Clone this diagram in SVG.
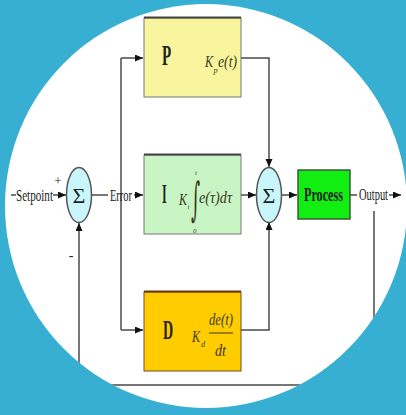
<svg xmlns="http://www.w3.org/2000/svg" width="406" height="415" viewBox="0 0 406 415">
<style>
.ln{fill:none;stroke:#4a4a4a;stroke-width:1.5}
.t{font-family:"Liberation Serif","Times New Roman",serif;fill:#222}
.it{font-family:"Liberation Serif","Times New Roman",serif;font-style:italic;fill:#3a3a22}
.sum{fill:#c9f6fa;stroke:#555;stroke-width:1.5}
</style>
<defs>
<marker id="ah" markerUnits="userSpaceOnUse" markerWidth="8" markerHeight="8" refX="8" refY="3.5" orient="auto">
<path d="M0,0 L8,3.5 L0,7 z" fill="#111"/>
</marker>
<clipPath id="cl"><ellipse cx="206" cy="206" rx="201" ry="202"/></clipPath>
</defs>
<rect width="406" height="415" fill="#36afd3"/>
<ellipse cx="206" cy="206" rx="201" ry="202" fill="#ffffff"/>
<g clip-path="url(#cl)">
<g id="connectors">
<path class="ln" d="M11,195 H16"/>
<path class="ln" d="M53,195 H66" marker-end="url(#ah)"/>
<path class="ln" d="M92,195 H108"/>
<path class="ln" d="M134,195 H143" marker-end="url(#ah)"/>
<path class="ln" d="M121,330 V58"/>
<path class="ln" d="M121,58 H143" marker-end="url(#ah)"/>
<path class="ln" d="M121,330 H143" marker-end="url(#ah)"/>
<path class="ln" d="M241,58 H269 V167" marker-end="url(#ah)"/>
<path class="ln" d="M241,195 H256" marker-end="url(#ah)"/>
<path class="ln" d="M241,330 H269 V222" marker-end="url(#ah)"/>
<path class="ln" d="M282,195 H297" marker-end="url(#ah)"/>
<path class="ln" d="M350,195 H357"/>
<path class="ln" d="M389,195 H401" marker-end="url(#ah)"/>
<path class="ln" d="M374,211 V385 H79 V223" marker-end="url(#ah)"/>
</g>
<g id="setpoint">
<text class="t" x="16" y="201" font-size="16" textLength="37" lengthAdjust="spacingAndGlyphs">Setpoint</text>
</g>
<g id="sum1">
<ellipse class="sum" cx="79" cy="195" rx="12.5" ry="27.5"/>
<text class="t" x="79" y="203" font-size="22" text-anchor="middle">Σ</text>
<text class="t" x="58" y="185" font-size="13" text-anchor="middle">+</text>
<text class="t" x="71" y="260" font-size="14" text-anchor="middle">-</text>
</g>
<g id="error">
<text class="t" x="110" y="201" font-size="16" textLength="22" lengthAdjust="spacingAndGlyphs">Error</text>
</g>
<g id="P">
<rect x="144" y="18" width="97" height="79" fill="#f8f59e" stroke="#777" stroke-width="1"/>
<path d="M144,17.5 H241" stroke="#444" stroke-width="2"/>
<text class="t" font-size="30" font-weight="bold" transform="translate(162,65) scale(0.5,1)">P</text>
<text class="it" x="205" y="67" font-size="16" textLength="8" lengthAdjust="spacingAndGlyphs">K</text>
<text class="it" x="213.5" y="73" font-size="8">p</text>
<text class="it" x="218" y="67" font-size="16" textLength="19" lengthAdjust="spacingAndGlyphs">e(t)</text>
</g>
<g id="I">
<rect x="144" y="155" width="97" height="79" fill="#c9f5c4" stroke="#777" stroke-width="1"/>
<path d="M144,154.5 H241" stroke="#444" stroke-width="2"/>
<text class="t" font-size="27" font-weight="bold" transform="translate(162,203) scale(0.45,1)">I</text>
<text class="it" x="179" y="205" font-size="16" textLength="8" lengthAdjust="spacingAndGlyphs">K</text>
<text class="it" x="187.5" y="209" font-size="7">i</text>
<text font-family="DejaVu Serif,serif" fill="#3a3a22" font-size="46" transform="translate(191,215) scale(0.38,1)">∫</text>
<text class="it" x="195" y="175" font-size="7">t</text>
<text class="it" x="193" y="233" font-size="7">0</text>
<text class="it" x="199" y="203" font-size="16" textLength="33" lengthAdjust="spacingAndGlyphs">e(τ)dτ</text>
</g>
<g id="D">
<rect x="144" y="292" width="97" height="79" fill="#ffcc00" stroke="#7a4a20" stroke-width="1"/>
<path d="M144,291.5 H241" stroke="#6b3a1a" stroke-width="2"/>
<text class="t" font-size="28" font-weight="bold" transform="translate(163,339) scale(0.5,1)">D</text>
<text class="it" x="192" y="342" font-size="16" textLength="8" lengthAdjust="spacingAndGlyphs">K</text>
<text class="it" x="201" y="347" font-size="8">d</text>
<text class="it" x="209" y="325" font-size="16" textLength="24" lengthAdjust="spacingAndGlyphs">de(t)</text>
<path d="M209,333 H233" stroke="#3a3a22" stroke-width="1.2"/>
<text class="it" x="215" y="356" font-size="16" textLength="11" lengthAdjust="spacingAndGlyphs">dt</text>
</g>
<g id="sum2">
<ellipse class="sum" cx="269" cy="195" rx="12.5" ry="27.5"/>
<text class="t" x="269" y="203" font-size="22" text-anchor="middle">Σ</text>
</g>
<g id="process">
<rect x="298" y="170" width="52" height="49" fill="#11ee11" stroke="#3a5a3a" stroke-width="1.5"/>
<text class="t" x="304" y="201" font-size="18" font-weight="bold" textLength="39" lengthAdjust="spacingAndGlyphs">Process</text>
</g>
<g id="output">
<text class="t" x="359" y="200" font-size="16" textLength="29" lengthAdjust="spacingAndGlyphs">Output</text>
</g>
</g>
</svg>
